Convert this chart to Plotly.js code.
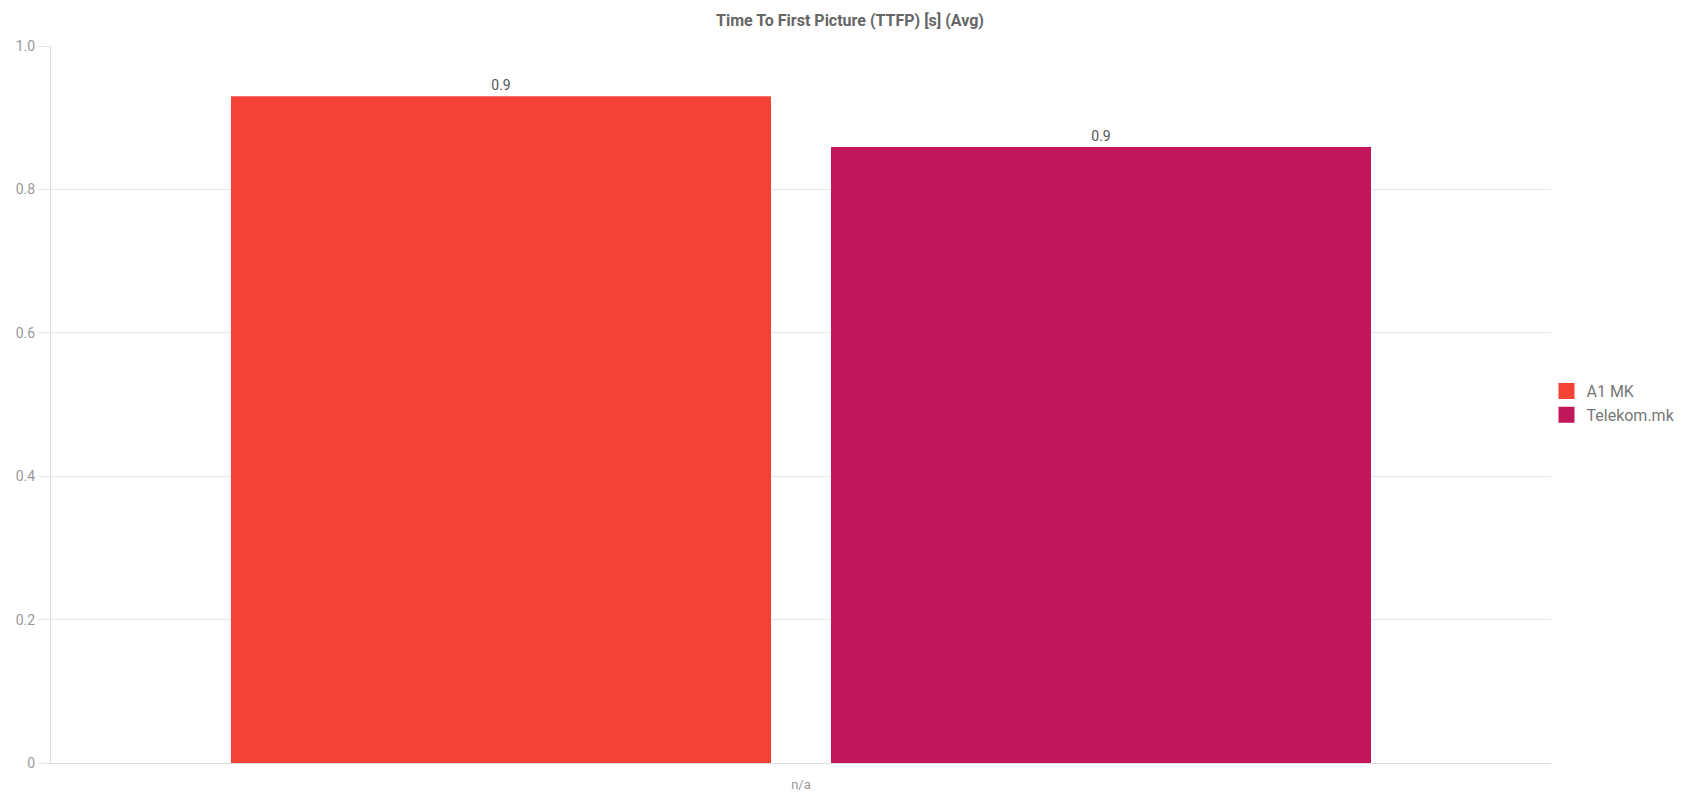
<!DOCTYPE html>
<html>
<head>
<meta charset="utf-8">
<script src="https://cdn.plot.ly/plotly-3.0.1.min.js"></script>
<style>html,body{margin:0;padding:0;background:#fff;}#chart{width:1681px;height:792px;}</style>
</head>
<body>
<div id="chart"></div>
<script>
const categories = ["n/a"];
const seriesNames = ["A1 MK", "Telekom.mk"];
const a1Values = [0.93];
const telekomValues = [0.859];
const seriesColors = ["#F44336", "#C2185B"];
const yTickVals = [0, 0.2, 0.4, 0.6, 0.8, 1.0];
const yTickText = ["0", "0.2", "0.4", "0.6", "0.8", "1.0"];

const allValues = [a1Values, telekomValues];
const traces = seriesNames.map((name, i) => ({
  type: "bar",
  name: name,
  x: categories,
  y: allValues[i],
  marker: {color: seriesColors[i]},
  texttemplate: "%{y:.1f}",
  textposition: "outside",
  textfont: {family: "Roboto, sans-serif", size: 14, color: "#555"},
  cliponaxis: false,
  showlegend: false,
  legendgroup: name,
  hoverinfo: "x+y+name"
}));
// legend entries with larger square swatches, same series
seriesNames.forEach((name, i) => {
  traces.push({
    type: "scatter",
    mode: "markers",
    name: name,
    x: [null],
    y: [null],
    legendgroup: name,
    marker: {symbol: "square", size: 16, color: seriesColors[i], line: {width: 0}},
    showlegend: true,
    hoverinfo: "skip"
  });
});

const layout = {
  width: 1681,
  height: 792,
  paper_bgcolor: "#fff",
  plot_bgcolor: "#fff",
  font: {family: "Roboto, sans-serif", color: "#777", size: 13},
  margin: {l: 50.5, r: 129.5, t: 46, b: 29, pad: 0, autoexpand: false},
  title: {
    text: "<b>Time To First Picture (TTFP) [s] (Avg)</b>",
    font: {family: "Roboto, sans-serif", size: 16, color: "#666"},
    x: 850 / 1681, xref: "container", xanchor: "center",
    y: 1 - 20 / 792, yref: "container", yanchor: "middle"
  },
  barmode: "group",
  bargap: 0.2,
  bargroupgap: 0.1,
  showlegend: true,
  legend: {
    x: 0.997, xanchor: "left",
    y: 0.502, yanchor: "middle",
    font: {family: "Roboto, sans-serif", size: 16, color: "#777"},
    tracegroupgap: 0,
    itemsizing: "trace",
    bgcolor: "rgba(0,0,0,0)"
  },
  xaxis: {
    type: "category",
    showgrid: false,
    showline: true,
    linecolor: "#dddddd",
    linewidth: 1,
    ticks: "outside",
    ticklen: 9,
    tickcolor: "rgba(0,0,0,0)",
    tickfont: {family: "Roboto, sans-serif", size: 13, color: "#999"},
    zeroline: false,
    fixedrange: true
  },
  yaxis: {
    range: [0, 1.0],
    tickmode: "array",
    tickvals: yTickVals,
    ticktext: yTickText,
    showgrid: true,
    gridcolor: "#e6e6e6",
    showline: true,
    linecolor: "#dddddd",
    ticks: "outside",
    ticklen: 12,
    tickcolor: "#e6e6e6",
    tickfont: {family: "Roboto, sans-serif", size: 14, color: "#999"},
    zeroline: false,
    fixedrange: true
  }
};

Plotly.newPlot("chart", traces, layout, {displayModeBar: false, staticPlot: true});
</script>
</body>
</html>
